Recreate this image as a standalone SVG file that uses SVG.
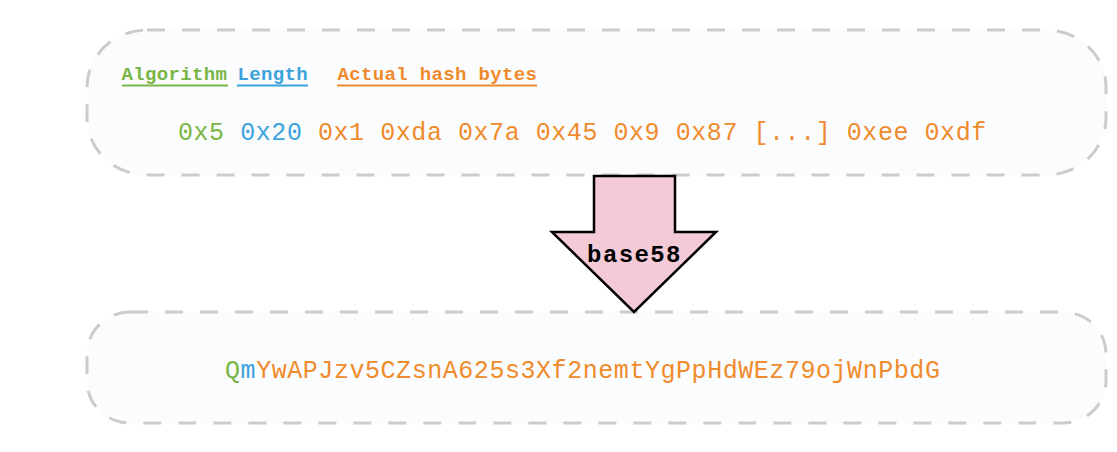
<svg xmlns="http://www.w3.org/2000/svg" width="1117" height="452" viewBox="0 0 1117 452">
  <style>
    .box { fill: #fbfcfe; stroke: #cccccc; stroke-width: 3; stroke-dasharray: 18 17; }
    .mono { font-family: "Liberation Mono", "DejaVu Sans Mono", monospace; }
    .lbl { font-size: 19px; font-weight: bold; letter-spacing: 0.35px; }
    .val { font-size: 25px; letter-spacing: 0.55px; }
    .g { fill: #7ab547; }
    .b { fill: #3ca2dc; }
    .o { fill: #ef8b2c; }
    .ul { stroke-width: 2; }
  </style>
  <rect width="1117" height="452" fill="#ffffff"/>
  <g id="multihash">
    <rect class="box" x="87" y="30" width="1019" height="145" rx="60" ry="57"/>
    <text class="mono lbl g" x="121.5" y="80">Algorithm</text>
    <line class="ul" x1="122" y1="85.5" x2="228" y2="85.5" stroke="#7ab547"/>
    <text class="mono lbl b" x="237.5" y="80">Length</text>
    <line class="ul" x1="237" y1="85.5" x2="308" y2="85.5" stroke="#3ca2dc"/>
    <text class="mono lbl o" x="337.5" y="80">Actual hash bytes</text>
    <line class="ul" x1="337" y1="85.5" x2="537" y2="85.5" stroke="#ef8b2c"/>
    <text class="mono val" x="178" y="140"><tspan class="g">0x5</tspan> <tspan class="b">0x20</tspan> <tspan class="o">0x1 0xda 0x7a 0x45 0x9 0x87 [...] 0xee 0xdf</tspan></text>
  </g>
  <g id="encoded">
    <rect class="box" x="87" y="312" width="1019" height="111" rx="43" ry="42"/>
    <text class="mono val" x="225" y="377.5"><tspan class="g">Q</tspan><tspan class="b">m</tspan><tspan class="o">YwAPJzv5CZsnA625s3Xf2nemtYgPpHdWEz79ojWnPbdG</tspan></text>
  </g>
  <g id="connectors">
    <g id="base58-arrow">
      <polygon points="594,176 675,176 675,232 716,232 634,312 552,232 594,232" fill="#f3cad6" stroke="#000000" stroke-width="2.5" stroke-linejoin="miter"/>
      <text class="mono" x="634.5" y="262" text-anchor="middle" font-size="24" font-weight="bold" letter-spacing="1.4" fill="#000000">base58</text>
    </g>
  </g>
</svg>
